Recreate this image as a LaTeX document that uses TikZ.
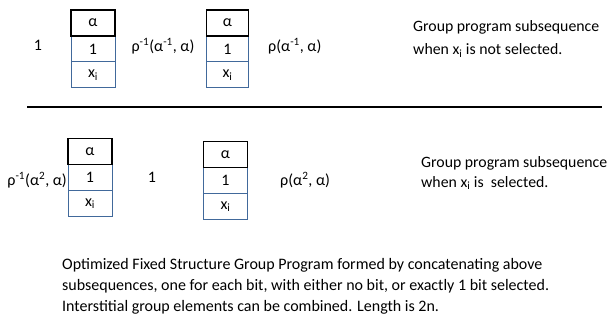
\documentclass[tikz,border=0pt]{standalone}
\usepackage{fontspec}
\setmainfont{Carlito}
\usetikzlibrary{positioning}
\definecolor{cellblue}{RGB}{65,105,155}

\begin{document}
\begin{tikzpicture}
  [x=1pt, y=-1pt, node distance=0pt,
   every node/.style={font=\fontsize{16}{20}\selectfont, inner sep=0pt},
   cell/.style={draw=cellblue, line width=1pt, outer sep=0pt, minimum width=44pt, minimum height=26pt},
   top cell/.style={cell, draw=black, line width=1.6pt},
   note/.style={anchor=west, align=left}]
  \useasboundingbox (0,0) rectangle (614,321);

  \node (id1) at (38,45) {1};
  \node [cell] (one1) at (93,49) {1};
  \node [cell, below=of one1] (x1) {x\textsubscript{i}};
  \node [top cell, above=of one1] (a1) {α};
  \node (rinv1) at (163,46) {ρ\textsuperscript{-1}(α\textsuperscript{-1}, α)};
  \node [cell, minimum width=42pt] (one2) at (227.5,49) {1};
  \node [cell, minimum width=42pt, below=of one2] (x2) {x\textsubscript{i}};
  \node [top cell, minimum width=42pt, above=of one2] (a2) {α};
  \node [anchor=west] (r1) at (268,46) {ρ(α\textsuperscript{-1}, α)};
  \node [note, font=\fontsize{15.8}{23}\selectfont] (txt1) at (413,39)
    {Group program subsequence\\when x\textsubscript{i} is not selected.};

  \draw [line width=2.5pt] (27,107) -- (602,107);

  \node [anchor=east] (rinv2) at (67,180) {ρ\textsuperscript{-1}(α\textsuperscript{2}, α)};
  \node [cell] (one3) at (90,177.5) {1};
  \node [cell, below=of one3] (x3) {x\textsubscript{i}};
  \node [top cell, above=of one3] (a3) {α};
  \node (id2) at (152,177) {1};
  \node [cell] (one4) at (225.5,180.5) {1};
  \node [cell, below=of one4] (x4) {x\textsubscript{i}};
  \node [top cell, above=of one4] (a4) {α};
  \node [anchor=west] (r2) at (280,180) {ρ(α\textsuperscript{2}, α)};
  \node [note, font=\fontsize{15.8}{20}\selectfont] (txt2) at (421,173)
    {Group program subsequence\\when x\textsubscript{i} is~ selected.};

  \node [note, font=\fontsize{16}{21}\selectfont] (summary) at (62,286)
    {Optimized Fixed Structure Group Program formed by concatenating above\\
     subsequences, one for each bit, with either no bit, or exactly 1 bit selected.\\
     Interstitial group elements can be combined. Length is 2n.};
\end{tikzpicture}
\end{document}
